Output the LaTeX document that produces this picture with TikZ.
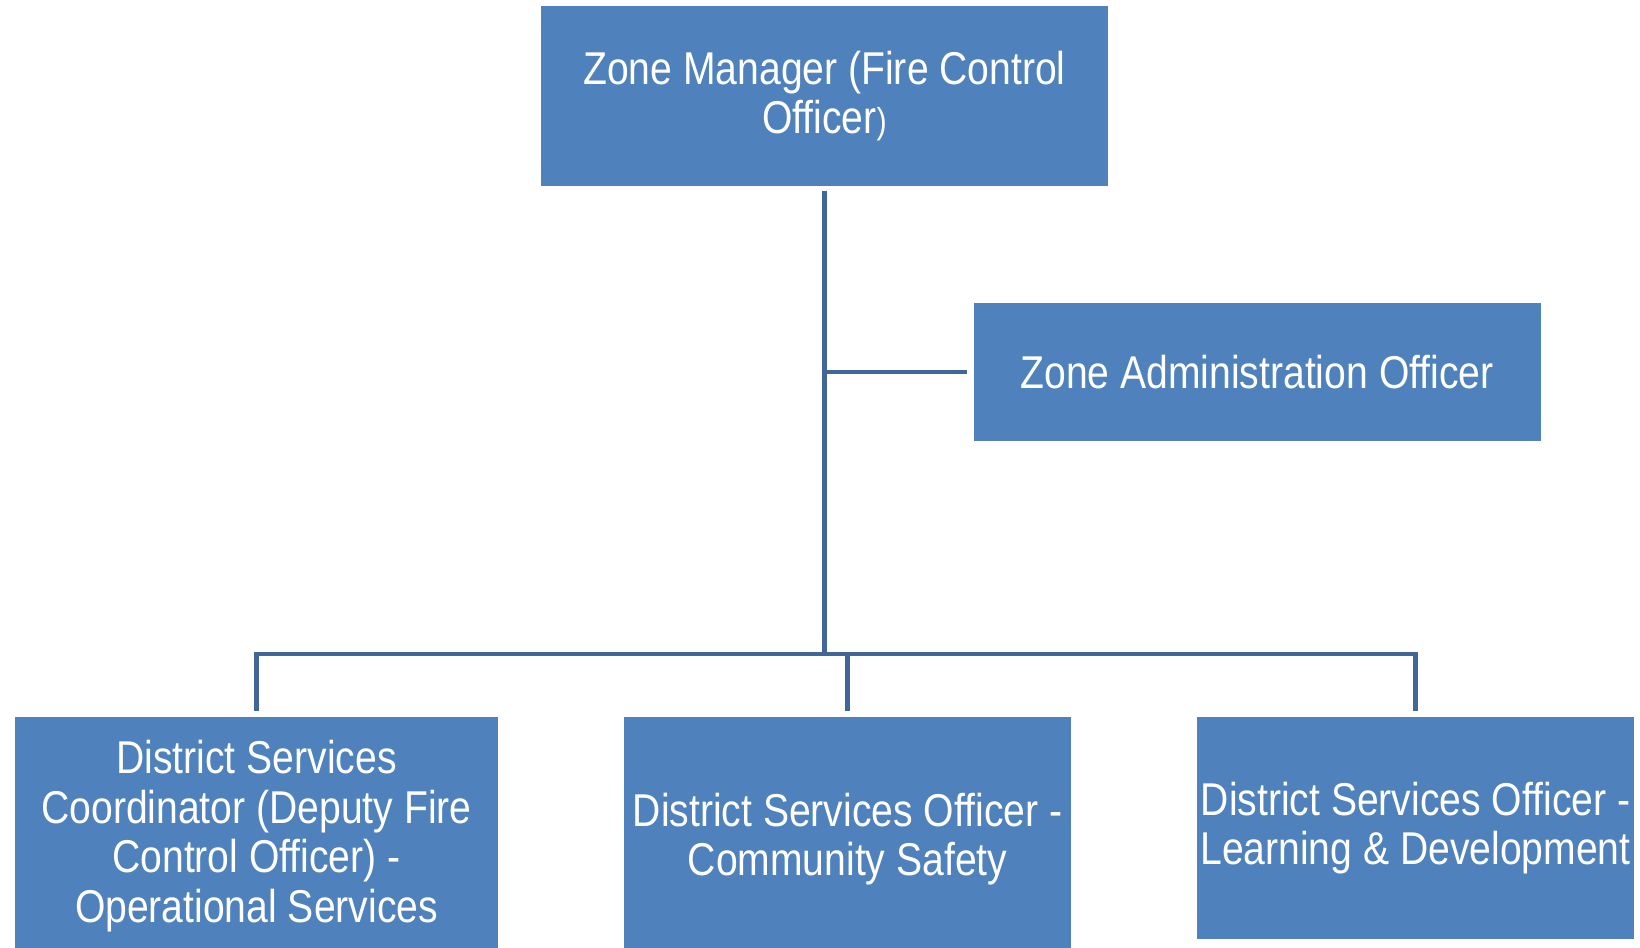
\documentclass[tikz,border=0pt]{standalone}
\usepackage{fontspec}
\setmainfont{Liberation Sans}[FakeStretch=0.85]
\usetikzlibrary{calc}

\definecolor{boxblue}{HTML}{4F81BD}
\definecolor{lineblue}{HTML}{41679A}

\begin{document}
\begin{tikzpicture}[x=0.5pt, y=-0.5pt]
        % Box and connector formulae
        \tikzset{
            post/.style={fill=boxblue, text=white, inner sep=0pt,
            align=center, font=\fontsize{23pt}{24.75pt}\selectfont},
            link/.style={draw=lineblue, line width=2.3pt},
        }

        \useasboundingbox (0, 0) rectangle (1640, 948);

        % Top two levels
        \node[post, minimum width=283.5pt, minimum height=90pt] (ZM)
        at (824.5, 96) {Zone Manager (Fire Control\\
        Officer{\fontsize{18pt}{24.75pt}\selectfont)}};
        \node[post, minimum width=283.5pt, minimum height=69pt] (ZAO)
        at (1257, 372) {Zone Administration Officer};

        % Bottom row, running off the lower edge
        \node[post, minimum width=241.5pt, minimum height=119pt] (DSC)
        at (256.5, 836) {District Services\\Coordinator (Deputy Fire\\
        Control Officer) -\\Operational Services};
        \node[post, minimum width=223.5pt, minimum height=122pt] (DSM)
        at (847.5, 839) {District Services Officer -\\Community Safety};
        \node[post, minimum width=218.5pt, minimum height=111pt] (DSL)
        at (1415.5, 828) {District Services Officer -\\
        Learning \& Development};

        \coordinate (BUS) at (824, 654);

        % Connectors
        \begin{scope}[link]
            \draw[shorten <=2.5pt] (ZM.south) -- (ZM.south |- BUS);
            \draw[shorten >=3pt] (ZM.south |- ZAO.west) -- (ZAO.west);
            \draw[shorten <=3pt, shorten >=3pt] (DSC.north) |- (BUS)
            -| (DSL.north);
            \draw[shorten <=3pt] (DSM.north) -- (DSM.north |- BUS);
        \end{scope}

\end{tikzpicture}
\end{document}
